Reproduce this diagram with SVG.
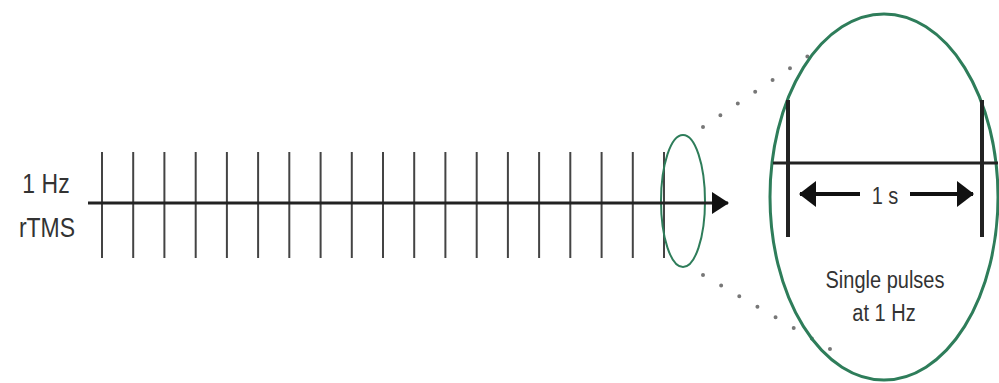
<svg xmlns="http://www.w3.org/2000/svg" width="999" height="383" viewBox="0 0 999 383">
<style>
.lbl{font-family:"Liberation Sans",Arial,sans-serif;fill:#333;text-anchor:middle}
.tick{stroke:#444;stroke-width:2}
.axis{stroke:#222;stroke-width:3;fill:none}
.ell{fill:none;stroke:#2e7d5a}
.dot{stroke:#777;stroke-width:4;stroke-linecap:round;stroke-dasharray:0 21;fill:none}
</style>
<defs>
<marker id="ah" markerUnits="userSpaceOnUse" markerWidth="18" markerHeight="22" refX="16" refY="11" orient="auto">
<path d="M0,0 L17,11 L0,22 Z" fill="#111"/>
</marker>
<marker id="ah2" markerUnits="userSpaceOnUse" markerWidth="18" markerHeight="26" refX="16" refY="13" orient="auto-start-reverse">
<path d="M0,0 L17,13 L0,26 Z" fill="#111"/>
</marker>
</defs>
<rect width="999" height="383" fill="#fff"/>
<g id="label-1hz">
<text class="lbl" font-size="23" transform="translate(46,193) scale(1,1.2)">1 Hz</text>
<text class="lbl" font-size="23" transform="translate(47,237) scale(1,1.2)">rTMS</text>
</g>
<g id="pulse-train">
<g class="tick">
<line x1="102" y1="152" x2="102" y2="258"/>
<line x1="133.2" y1="152" x2="133.2" y2="258"/>
<line x1="164.4" y1="152" x2="164.4" y2="258"/>
<line x1="195.7" y1="152" x2="195.7" y2="258"/>
<line x1="226.9" y1="152" x2="226.9" y2="258"/>
<line x1="258.1" y1="152" x2="258.1" y2="258"/>
<line x1="289.3" y1="152" x2="289.3" y2="258"/>
<line x1="320.6" y1="152" x2="320.6" y2="258"/>
<line x1="351.8" y1="152" x2="351.8" y2="258"/>
<line x1="383" y1="152" x2="383" y2="258"/>
<line x1="414.2" y1="152" x2="414.2" y2="258"/>
<line x1="445.4" y1="152" x2="445.4" y2="258"/>
<line x1="476.7" y1="152" x2="476.7" y2="258"/>
<line x1="507.9" y1="152" x2="507.9" y2="258"/>
<line x1="539.1" y1="152" x2="539.1" y2="258"/>
<line x1="570.3" y1="152" x2="570.3" y2="258"/>
<line x1="601.6" y1="152" x2="601.6" y2="258"/>
<line x1="632.8" y1="152" x2="632.8" y2="258"/>
<line x1="664" y1="152" x2="664" y2="258"/>
</g>
</g>
<g id="small-ellipse">
<ellipse class="ell" cx="683" cy="201" rx="22" ry="66" stroke-width="2"/>
</g>
<g id="connectors">
<line class="axis" x1="88" y1="203" x2="728" y2="203" marker-end="url(#ah)"/>
<line class="dot" x1="703" y1="127" x2="808" y2="56"/>
<line class="dot" x1="703" y1="275" x2="835" y2="352"/>
</g>
<g id="zoom-ellipse">
<ellipse class="ell" cx="884" cy="197" rx="114" ry="183" stroke-width="3"/>
<line x1="773" y1="163" x2="998" y2="163" stroke="#222" stroke-width="3"/>
<line x1="788" y1="100" x2="788" y2="237" stroke="#222" stroke-width="4"/>
<line x1="982" y1="100" x2="982" y2="237" stroke="#222" stroke-width="4"/>
<line x1="860" y1="194" x2="800" y2="194" stroke="#111" stroke-width="4" marker-end="url(#ah2)"/>
<line x1="910" y1="194" x2="973" y2="194" stroke="#111" stroke-width="4" marker-end="url(#ah2)"/>
<text class="lbl" font-size="20" transform="translate(885,204) scale(1,1.15)">1 s</text>
<text class="lbl" font-size="20" transform="translate(885,288) scale(1,1.15)">Single pulses</text>
<text class="lbl" font-size="20" transform="translate(884,321) scale(1,1.15)">at 1 Hz</text>
</g>
</svg>
